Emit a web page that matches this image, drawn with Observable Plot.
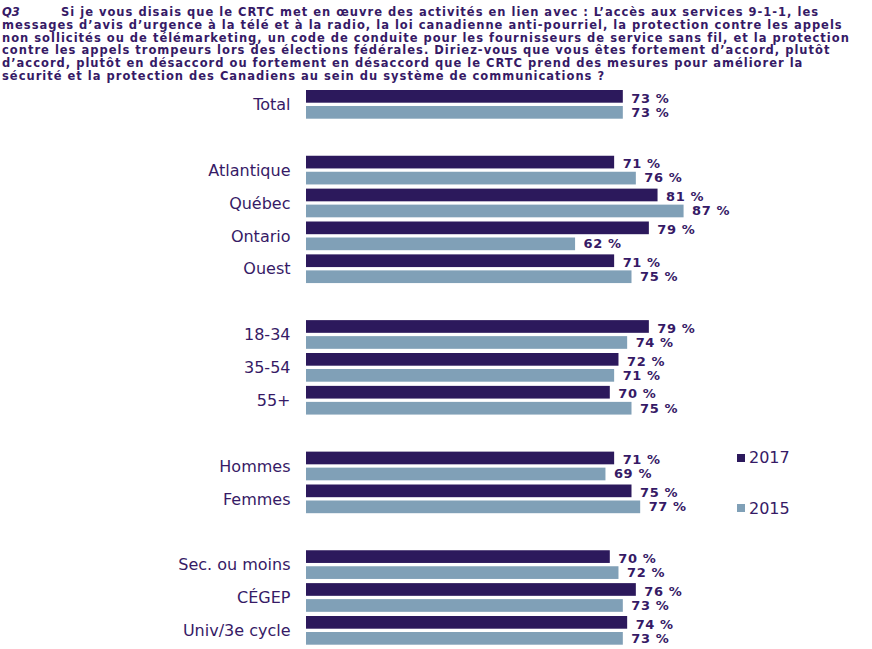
<!DOCTYPE html>
<html>
<head>
<meta charset="utf-8">
<script src="https://cdn.jsdelivr.net/npm/d3@7"></script>
<script src="https://cdn.jsdelivr.net/npm/@observablehq/plot@0.6"></script>
<style>
  html, body { margin: 0; padding: 0; background: #fff; }
  body { width: 872px; height: 649px; position: relative; overflow: hidden; font-family: Verdana, "DejaVu Sans", sans-serif; }
  #title { height: 88px; box-sizing: border-box; padding: 6px 0 0 2px; color: #361a66; font-weight: bold; font-size: 11.5px; letter-spacing: 1px; line-height: 12.8px; white-space: nowrap; overflow: hidden; }
  #title .q { font-style: italic; display: inline-block; width: 59px; letter-spacing: 0; }
  #chart svg { display: block; }
  #chart g[font-weight="bold"] text { letter-spacing: 0.6px; }
  .leg { position: absolute; display: flex; align-items: center; height: 19px; font-size: 16px; color: #361a66; }
  .leg span.sw { display: inline-block; width: 8px; height: 8px; margin-right: 4px; }
</style>
</head>
<body>
<div id="title"></div>
<div id="chart"></div>
<script>
const titleLines = [
  "Si je vous disais que le CRTC met en œuvre des activités en lien avec : L’accès aux services 9-1-1, les",
  "messages d’avis d’urgence à la télé et à la radio, la loi canadienne anti-pourriel, la protection contre les appels",
  "non sollicités ou de télémarketing, un code de conduite pour les fournisseurs de service sans fil, et la protection",
  "contre les appels trompeurs lors des élections fédérales. Diriez-vous que vous êtes fortement d’accord, plutôt",
  "d’accord, plutôt en désaccord ou fortement en désaccord que le CRTC prend des mesures pour améliorer la",
  "sécurité et la protection des Canadiens au sein du système de communications ?"
];
const questionId = "Q3";

const groups = [
  ["Total"],
  ["Atlantique", "Québec", "Ontario", "Ouest"],
  ["18-34", "35-54", "55+"],
  ["Hommes", "Femmes"],
  ["Sec. ou moins", "CÉGEP", "Univ/3e cycle"]
];
const categories = ["Total", "Atlantique", "Québec", "Ontario", "Ouest", "18-34", "35-54", "55+", "Hommes", "Femmes", "Sec. ou moins", "CÉGEP", "Univ/3e cycle"];
const v2017 = [73, 71, 81, 79, 71, 79, 72, 70, 71, 75, 70, 76, 74];
const v2015 = [73, 76, 87, 62, 75, 74, 71, 75, 69, 77, 72, 73, 73];
const years = ["2017", "2015"];
const colors = {"2017": "#2c195c", "2015": "#80a0b7"};
const textColor = "#361a66";

// title
const t = document.getElementById("title");
t.innerHTML = `<span class="q">${questionId}</span>` + titleLines.join("<br>");

// y domain with spacer rows between groups
const yDomain = [];
groups.forEach((g, i) => {
  if (i > 0) yDomain.push("_gap" + i);
  yDomain.push(...g);
});

const d17 = categories.map((c, i) => ({cat: c, value: v2017[i]}));
const d15 = categories.map((c, i) => ({cat: c, value: v2015[i]}));

const band = 32.875;
const H = yDomain.length * band;

const chart = Plot.plot({
  width: 872,
  height: 561,
  marginTop: 0,
  marginBottom: 561 - H,
  marginLeft: 306,
  marginRight: 132,
  style: {fontFamily: 'Verdana, "DejaVu Sans", sans-serif', background: "#fff"},
  x: {domain: [0, 100], axis: null},
  y: {domain: yDomain, type: "band", padding: 0, round: false, axis: null},
  marks: [
    Plot.barX(d17, {x: "value", y: "cat", fill: colors["2017"], insetTop: 2, insetBottom: band - 2 - 12.7}),
    Plot.barX(d15, {x: "value", y: "cat", fill: colors["2015"], insetTop: 18, insetBottom: band - 18 - 12.7}),
    Plot.text(d17, {x: "value", y: "cat", text: d => `${d.value} %`, dx: 8, dy: -6.6, textAnchor: "start", fontWeight: "bold", fontSize: 13, fill: textColor}),
    Plot.text(d15, {x: "value", y: "cat", text: d => `${d.value} %`, dx: 8, dy: 7.6, textAnchor: "start", fontWeight: "bold", fontSize: 13, fill: textColor}),
    Plot.axisY({tickSize: 0, tickPadding: 16, fontSize: 16, color: textColor, label: null,
      tickFormat: d => d.startsWith("_gap") ? "" : d})
  ]
});
document.getElementById("chart").appendChild(chart);

// legend
const legPos = {"2017": 448, "2015": 498.5};
years.forEach(y => {
  const div = document.createElement("div");
  div.className = "leg";
  div.style.left = "737px";
  div.style.top = legPos[y] + "px";
  div.innerHTML = `<span class="sw" style="background:${colors[y]}"></span>${y}`;
  document.body.appendChild(div);
});
</script>
</body>
</html>
